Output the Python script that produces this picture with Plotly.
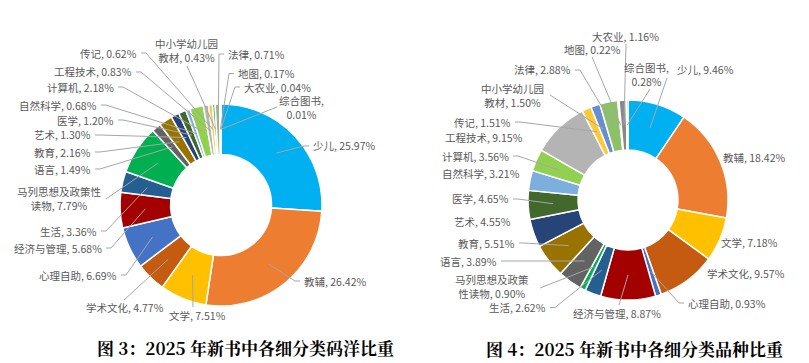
import math
import plotly.graph_objects as go

# reference frame is 809x363; the page body adds an 8px margin, so the figure is 801x355
W, H = 809, 363
OFF = 8
FW, FH = W - OFF, H - OFF

# ---------------- data ----------------
categories = ["少儿", "教辅", "文学", "学术文化", "心理自助", "经济与管理", "生活",
              "马列思想及政策性读物", "语言", "教育", "艺术", "医学", "自然科学", "计算机",
              "工程技术", "传记", "中小学幼儿园教材", "法律", "地图", "大农业", "综合图书"]
share_value = [25.97, 26.42, 7.51, 4.77, 6.69, 5.68, 3.36, 7.79, 1.49, 2.16, 1.30,
               1.20, 0.68, 2.18, 0.83, 0.62, 0.43, 0.71, 0.17, 0.04, 0.01]
share_titles = [9.46, 18.42, 7.18, 9.57, 0.93, 8.87, 2.62, 0.90, 3.89, 5.51, 4.55,
                4.65, 3.21, 3.56, 9.15, 1.51, 1.50, 2.88, 0.22, 1.16, 0.28]
title_left = "图 3：2025 年新书中各细分类码洋比重"
title_right = "图 4：2025 年新书中各细分类品种比重"

# ---------------- styles ----------------
colors = ["#00B0F0", "#ED7D31", "#FFC000", "#C55A11", "#4472C4", "#A30000", "#255E91",
          "#00B050", "#636363", "#997300", "#264478", "#43682B", "#7CAFDD", "#92D050",
          "#B4B4B4", "#FFC935", "#698ED0", "#8CC168", "#F4B183", "#888888", "#5F5F5F"]
LABEL_FONT = dict(family="Noto Sans CJK SC, Microsoft YaHei, sans-serif", size=10.5, color="#595959")
LINE_COLOR = "#A6A6A6"

# label layout: (x_px, y_px, xanchor, split_index or None, leader) ; leader: 'auto', None or list of start points
left_layout = [
    (312, 146, "left", None, "auto"),
    (303, 281, "left", None, "auto"),
    (168, 315, "left", None, [(193, 307)]),
    (85, 307, "left", None, [(124, 300)]),
    (118, 275, "right", None, "auto"),
    (103, 248, "right", None, "auto"),
    (98, 231, "right", None, "auto"),
    (59, 199, "center", 8, [(106, 199)]),
    (92, 169, "right", None, "auto"),
    (92, 152, "right", None, "auto"),
    (92, 135, "right", None, "auto"),
    (115, 120, "right", None, "auto"),
    (98, 105, "right", None, "auto"),
    (115, 87, "right", None, "auto"),
    (133, 72, "right", None, "auto"),
    (138, 53, "right", None, "auto"),
    (186, 50.5, "center", 6, [(187, 66)]),
    (227, 54, "left", None, "auto"),
    (237, 73.5, "left", None, "auto"),
    (243, 87, "left", None, "auto"),
    (301, 107.5, "center", 5, [(277, 107)]),
]
right_layout = [
    (676, 70, "left", None, [(667, 78)]),
    (722, 157, "left", None, None),
    (720, 242, "left", None, None),
    (706, 273, "left", None, None),
    (687, 303, "left", None, "auto"),
    (572, 313, "left", None, [(619, 305)]),
    (547, 307.5, "right", None, "auto"),
    (492, 286.5, "center", 7, [(540, 288)]),
    (498, 261, "right", None, "auto"),
    (516, 243, "right", None, "auto"),
    (512, 221, "right", None, None),
    (510, 199, "right", None, "auto"),
    (521, 173, "right", None, None),
    (510, 156, "right", None, "auto"),
    (524, 138, "right", None, None),
    (512, 122, "right", None, "auto"),
    (512, 95, "center", 6, [(550, 95)]),
    (572, 70, "right", None, "auto"),
    (563, 49.5, "left", None, [(592, 57)]),
    (591, 36.5, "left", None, [(626, 44)]),
    (646, 74.5, "center", 5, [(650, 89)]),
]

charts = [
    dict(values=share_value, cx=221, cy=205, R=101, layout=left_layout, title=title_left, tx=245, ty=347),
    dict(values=share_titles, cx=628, cy=200, R=100, layout=right_layout, title=title_right, tx=634, ty=348),
]


def px(x):
    return (x - OFF) / FW


def py(y):
    return 1 - (y - OFF) / FH


fig = go.Figure()
annotations = []
shapes = []

for ch in charts:
    cx, cy, R = ch["cx"], ch["cy"], ch["R"]
    vals = ch["values"]
    fig.add_trace(go.Pie(
        labels=categories, values=vals, hole=0.5, sort=False, direction="clockwise",
        rotation=0, textinfo="none", hoverinfo="label+percent",
        marker=dict(colors=colors, line=dict(color="white", width=1.5)),
        domain=dict(x=[px(cx - R), px(cx + R)], y=[py(cy + R), py(cy - R)]),
        showlegend=False,
    ))
    total = sum(vals)
    cum = 0.0
    for cat, v, spec in zip(categories, vals, ch["layout"]):
        theta = math.radians(360.0 * (cum + v / 2) / total)
        cum += v
        ar = 0.75 * R
        ax_, ay_ = cx + ar * math.sin(theta), cy - ar * math.cos(theta)
        x, y, anchor, split, leader = spec
        text = f"{cat}, {v:.2f}%"
        if split is not None:
            text = text[:split] + "<br>" + text[split:].lstrip()
        annotations.append(dict(
            x=px(x), y=py(y), xref="paper", yref="paper", text=text, showarrow=False,
            xanchor=anchor, yanchor="middle", align="center", font=LABEL_FONT, borderpad=0,
        ))
        pts = None
        if leader == "auto":
            if anchor == "right":
                pts = [(x + 3, y), (x + 8, y)]
            else:
                pts = [(x - 3, y), (x - 8, y)]
        elif leader:
            pts = list(leader)
        if pts:
            pts.append((ax_, ay_))
            path = "M " + " L ".join(f"{px(a):.5f},{py(b):.5f}" for a, b in pts)
            shapes.append(dict(type="path", path=path, xref="paper", yref="paper",
                               line=dict(color=LINE_COLOR, width=1), layer="above"))
    annotations.append(dict(
        x=px(ch["tx"]), y=py(ch["ty"]), xref="paper", yref="paper", text=ch["title"],
        showarrow=False, xanchor="center", yanchor="middle",
        font=dict(family="Noto Serif CJK SC, Noto Sans CJK SC, serif", size=17, color="#000000", weight=700),
    ))

fig.update_layout(
    width=FW, height=FH, margin=dict(l=0, r=0, t=0, b=0),
    paper_bgcolor="white", plot_bgcolor="white",
    annotations=annotations, shapes=shapes, showlegend=False,
)
fig.write_html("out.html")
